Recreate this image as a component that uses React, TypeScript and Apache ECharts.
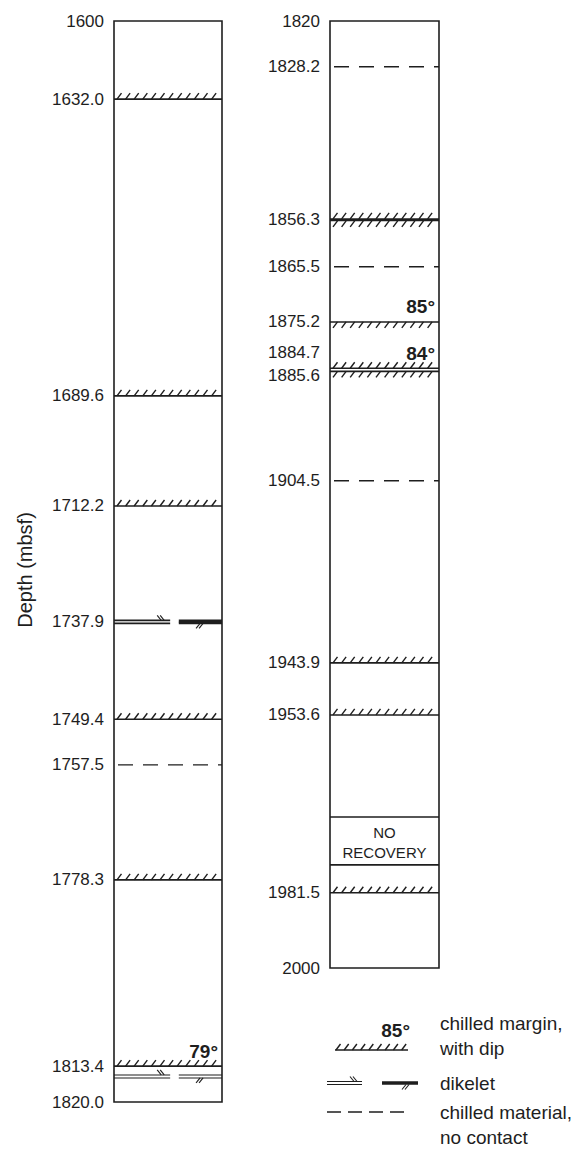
import { useEffect, useRef } from "react";
import * as echarts from "echarts";

// ---------- data ----------
// The figure is schematic (not to scale): "plotted" values are the positions of each
// contact along its column in depth units of that column's axis.
const leftRange = [1600, 1820];
const rightRange = [1820, 2000];
const leftEndLabels = ["1600", "1820.0"];
const rightEndLabels = ["1820", "2000"];

const leftDepthLabels = ["1632.0", "1689.6", "1712.2", "1737.9", "1749.4", "1757.5", "1778.3", "1813.4", ""];
const leftPlotted = [1615.9, 1676.3, 1698.7, 1722.3, 1742.1, 1751.4, 1774.8, 1812.7, 1814.8];
const leftKinds = ["margin", "margin", "margin", "dikeletBold", "margin", "dashed", "margin", "margin", "dikelet"];
const leftDips = ["", "", "", "", "", "", "", "79°", ""];

const rightDepthLabels = ["1828.2", "1856.3", "1865.5", "1875.2", "1884.7", "1885.6", "1904.5", "1943.9", "1953.6", "1981.5"];
const rightPlotted = [1828.7, 1857.8, 1866.7, 1877.2, 1886.0, 1886.6, 1907.4, 1942.0, 1951.9, 1985.7];
const rightKinds = ["dashed", "marginDouble", "dashed", "marginBelow", "margin", "marginBelow", "dashed", "margin", "margin", "margin"];
const rightDips = ["", "", "", "85°", "84°", "", "", "", "", ""];
const rightLabelShift = [0, 0, 0, 0, -16, 4, 0, 0, 0, 0];

const noRecovery = [1971.3, 1980.4];
const noRecoveryText = ["NO", "RECOVERY"];

const legendItems = ["chilled margin,\nwith dip", "dikelet", "chilled material,\nno contact"];
const legendDip = "85°";
const axisTitle = "Depth (mbsf)";

// ---------- drawing helpers ----------
const INK = "#1e1e1e";
const FONT = "Liberation Sans, Arial, Helvetica, sans-serif";

function hatches(x0: number, x1: number, y: number, below: boolean, step = 8.6) {
  const out: any[] = [];
  for (let x = x0 + 3; x + 4 <= x1; x += step) {
    const yb = below ? y + 6 : y;
    out.push({
      type: "line",
      shape: { x1: x, y1: yb, x2: x + 4.5, y2: yb - 6 },
      style: { stroke: INK, lineWidth: 1.4 },
    });
  }
  return out;
}

function hline(x0: number, x1: number, y: number, w = 1.6, dash?: number[]) {
  return {
    type: "line",
    shape: { x1: x0, y1: y, x2: x1, y2: y },
    style: { stroke: INK, lineWidth: w, lineDash: dash },
  };
}

function ticks(x: number, y: number, up: boolean) {
  const d = up ? -1 : 1;
  return [0, 3].map((o) => ({
    type: "line",
    shape: { x1: x + o, y1: y + d * 5, x2: x + o + 4, y2: y },
    style: { stroke: INK, lineWidth: 1.1 },
  }));
}

function dikelet(x0: number, x1: number, y: number, bold: boolean) {
  const w = x1 - x0;
  const gapA = x0 + w * 0.52;
  const gapB = x0 + w * 0.6;
  const lw = bold ? 1.8 : 1.1;
  const els: any[] = [
    hline(x0, gapA, y - 1.5, lw),
    hline(x0, gapA, y + 1.5, lw),
    hline(gapB, x1, y - 1.5, lw),
    hline(gapB, x1, y + 1.5, lw),
  ];
  if (bold) {
    els.push(hline(gapB, x1, y, 2));
  }
  els.push(...ticks(x0 + w * 0.4, y - 1.5, true));
  els.push(...ticks(x0 + w * 0.76, y + 1.5, false));
  return els;
}

function mark(kind: string, x0: number, x1: number, y: number) {
  switch (kind) {
    case "margin":
      return [hline(x0, x1, y), ...hatches(x0, x1, y, false)];
    case "marginBelow":
      return [hline(x0, x1, y), ...hatches(x0, x1, y, true)];
    case "marginDouble":
      return [hline(x0, x1, y, 3), ...hatches(x0, x1, y - 1, false), ...hatches(x0, x1, y + 1, true)];
    case "dashed":
      return [hline(x0 + 4, x1, y, 1.4, [15, 10])];
    case "dikelet":
      return dikelet(x0, x1, y, false);
    case "dikeletBold":
      return dikelet(x0, x1, y, true);
  }
  return [];
}

function makeRender(labels: string[], kinds: string[], dips: string[], shifts?: number[]) {
  return (params: any, api: any) => {
    const i = params.dataIndex;
    const v = api.value(1);
    const [x0, y] = api.coord([0, v]);
    const [x1] = api.coord([1, v]);
    const children: any[] = [...mark(kinds[i], x0, x1, y)];
    if (labels[i]) {
      children.push({
        type: "text",
        style: {
          text: labels[i],
          x: x0 - 10,
          y: y + (shifts ? shifts[i] : 0),
          align: "right",
          verticalAlign: "middle",
          fill: INK,
          font: `17px ${FONT}`,
        },
      });
    }
    if (dips[i]) {
      children.push({
        type: "text",
        style: {
          text: dips[i],
          x: x1 - 4,
          y: y - 15,
          align: "right",
          verticalAlign: "middle",
          fill: INK,
          font: `bold 19px ${FONT}`,
        },
      });
    }
    return { type: "group", children };
  };
}

function endRender(labels: string[]) {
  return (params: any, api: any) => {
    const i = params.dataIndex;
    const [x0, y] = api.coord([0, api.value(1)]);
    return {
      type: "text",
      style: {
        text: labels[i],
        x: x0 - 10,
        y,
        align: "right",
        verticalAlign: "middle",
        fill: INK,
        font: `17px ${FONT}`,
      },
    };
  };
}

function noRecRender(params: any, api: any) {
  const a = api.value(1);
  const b = api.value(2);
  const [x0, ya] = api.coord([0, a]);
  const [x1, yb] = api.coord([1, b]);
  const mid = (x0 + x1) / 2;
  return {
    type: "group",
    children: [
      hline(x0, x1, ya, 1.6),
      hline(x0, x1, yb, 1.6),
      {
        type: "text",
        style: { text: noRecoveryText[0], x: mid, y: ya + 15, align: "center", verticalAlign: "middle", fill: INK, font: `15px ${FONT}` },
      },
      {
        type: "text",
        style: { text: noRecoveryText[1], x: mid, y: ya + 35, align: "center", verticalAlign: "middle", fill: INK, font: `15px ${FONT}` },
      },
    ],
  };
}

function legendGraphics() {
  const els: any[] = [];
  // chilled margin
  els.push({ type: "text", style: { text: legendDip, x: 410, y: 1030, align: "right", verticalAlign: "middle", fill: INK, font: `bold 19px ${FONT}` } });
  els.push(hline(335, 408, 1050, 1.6));
  els.push(...hatches(333, 410, 1050, false, 8.2));
  // dikelet
  els.push(hline(327, 362, 1081.5, 1.1), hline(327, 362, 1084.5, 1.1));
  els.push(...ticks(350, 1081.5, true));
  els.push(hline(382, 418, 1083, 3.5));
  els.push(...ticks(402, 1084.5, false));
  // chilled material
  els.push(hline(327, 404, 1112, 1.4, [14, 7]));
  const ys = [1036, 1083, 1125];
  legendItems.forEach((t, k) => {
    els.push({
      type: "text",
      style: { text: t, x: 440, y: ys[k], align: "left", verticalAlign: "middle", fill: INK, font: `19px ${FONT}`, lineHeight: 25 },
    });
  });
  els.push({
    type: "text",
    x: 25,
    y: 570,
    rotation: Math.PI / 2,
    style: { text: axisTitle, x: 0, y: 0, align: "center", verticalAlign: "middle", fill: INK, font: `20px ${FONT}` },
  });
  return els;
}

export default function App() {
  const ref = useRef<HTMLDivElement>(null);
  useEffect(() => {
    if (!ref.current) return;
    const chart = echarts.init(ref.current, undefined, { renderer: "svg" });
    const hiddenX = (gi: number) => ({ type: "value", gridIndex: gi, min: 0, max: 1, show: false });
    const hiddenY = (gi: number, r: number[]) => ({ type: "value", gridIndex: gi, min: r[0], max: r[1], inverse: true, show: false });
    chart.setOption({
      animation: false,
      backgroundColor: "#fff",
      grid: [
        { left: 114, top: 21, width: 108, height: 1081, show: true, borderColor: INK, borderWidth: 1.6, backgroundColor: "transparent" },
        { left: 330, top: 21, width: 109, height: 947, show: true, borderColor: INK, borderWidth: 1.6, backgroundColor: "transparent" },
      ],
      xAxis: [hiddenX(0), hiddenX(1)],
      yAxis: [hiddenY(0, leftRange), hiddenY(1, rightRange)],
      series: [
        { type: "custom", xAxisIndex: 0, yAxisIndex: 0, clip: false, renderItem: makeRender(leftDepthLabels, leftKinds, leftDips), data: leftPlotted.map((p) => [0.5, p]) },
        { type: "custom", xAxisIndex: 1, yAxisIndex: 1, clip: false, renderItem: makeRender(rightDepthLabels, rightKinds, rightDips, rightLabelShift), data: rightPlotted.map((p) => [0.5, p]) },
        { type: "custom", xAxisIndex: 0, yAxisIndex: 0, clip: false, renderItem: endRender(leftEndLabels), data: leftRange.map((p) => [0.5, p]) },
        { type: "custom", xAxisIndex: 1, yAxisIndex: 1, clip: false, renderItem: endRender(rightEndLabels), data: rightRange.map((p) => [0.5, p]) },
        { type: "custom", xAxisIndex: 1, yAxisIndex: 1, clip: false, renderItem: noRecRender, data: [[0.5, noRecovery[0], noRecovery[1]]] },
      ],
      graphic: legendGraphics(),
    });
    return () => chart.dispose();
  }, []);
  return <div ref={ref} style={{ position: "fixed", left: 0, top: 0, width: 583, height: 1149 }} />;
}
